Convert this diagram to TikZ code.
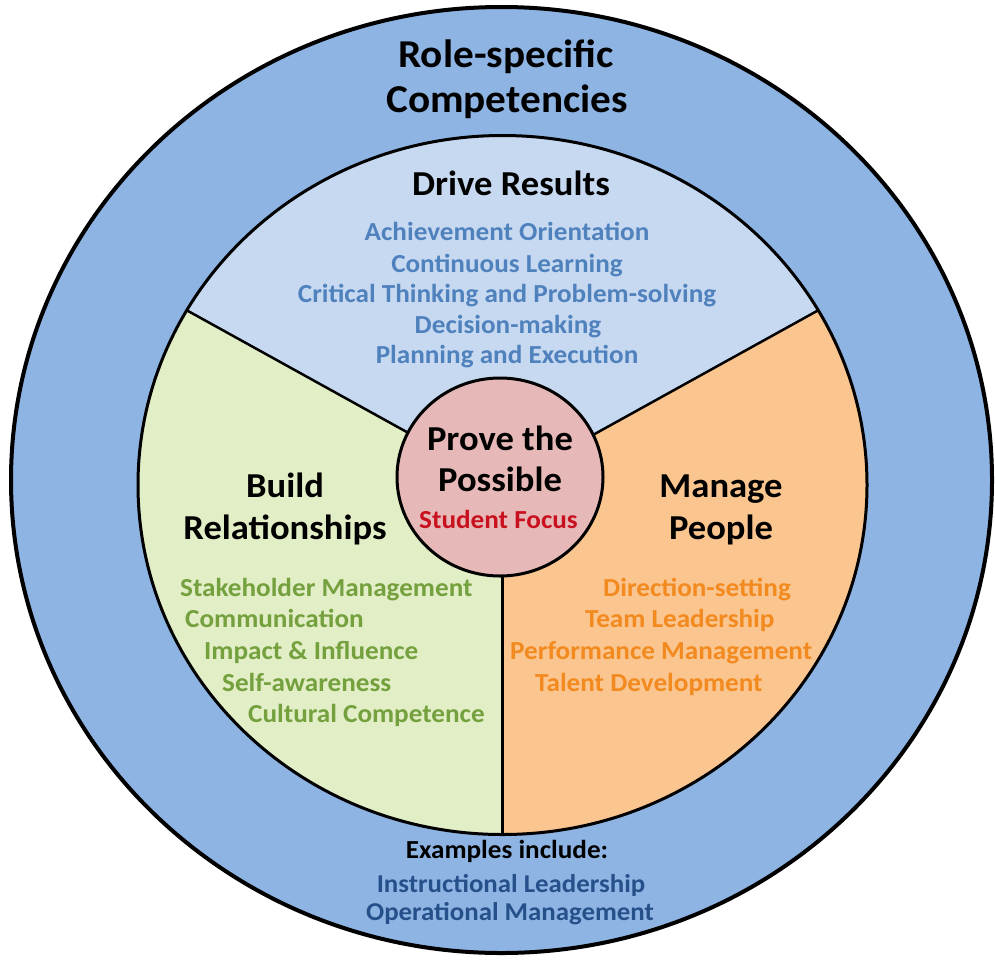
\documentclass[tikz,border=0pt]{standalone}
\usepackage{fontspec}
\setmainfont{Carlito}[FakeStretch=1.045]
\usetikzlibrary{shapes.geometric}

\definecolor{ringblue}{HTML}{8EB4E3}
\definecolor{drivefill}{HTML}{C6D9F1}
\definecolor{buildfill}{HTML}{E2EEC5}
\definecolor{managefill}{HTML}{FAC58E}
\definecolor{corefill}{HTML}{E6B9B8}
\definecolor{driveink}{HTML}{4F81BD}
\definecolor{buildink}{HTML}{74A03E}
\definecolor{manageink}{HTML}{F28A1F}
\definecolor{coreink}{HTML}{C8101E}
\definecolor{roleink}{HTML}{26508A}

\begin{document}
\begin{tikzpicture}[x=1pt,y=-1pt,
  txt/.style={inner sep=0pt, anchor=base, font=\bfseries},
  titletxt/.style={txt, font=\fontsize{39.5}{39.5}\selectfont\bfseries},
  headtxt/.style={txt, font=\fontsize{35}{35}\selectfont\bfseries},
  itemtxt/.style={txt, font=\fontsize{26}{26}\selectfont\bfseries},
  smalltxt/.style={txt, font=\fontsize{26}{26}\selectfont\bfseries},
  drive/.style={itemtxt, text=driveink},
  build/.style={itemtxt, text=buildink, anchor=base west},
  manage/.style={itemtxt, text=manageink, anchor=base west},
  role/.style={txt, font=\fontsize{25.7}{25.7}\selectfont\bfseries, text=roleink},
  divider/.style={line width=2.5pt, black}]
\useasboundingbox (0,0) rectangle (995,959);

% outer ring of role-specific competencies
\draw[line width=4pt, fill=ringblue] (501.5,480) ellipse [x radius=490.5, y radius=473];

% inner disc split in three sectors
\coordinate (hub) at (502.5,485);
\coordinate (pL) at (186.8,310.3);
\coordinate (pR) at (818.2,310.3);
\coordinate (pB) at (502.5,834.5);
\fill[drivefill] (hub) -- (pL) arc[start angle=-150, end angle=-30, x radius=364.5, y radius=349.5] -- cycle;
\fill[managefill] (hub) -- (pR) arc[start angle=-30, end angle=90, x radius=364.5, y radius=349.5] -- cycle;
\fill[buildfill] (hub) -- (pB) arc[start angle=90, end angle=210, x radius=364.5, y radius=349.5] -- cycle;
\draw[line width=3pt] (hub) ellipse [x radius=364.5, y radius=349.5];
\draw[divider] (hub) -- (pL);
\draw[divider] (hub) -- (pR);
\draw[divider] (hub) -- (pB);

% core
\node[ellipse, draw, line width=3pt, fill=corefill, minimum width=206pt, minimum height=198pt, inner sep=0pt] (core) at (500,477) {};

% ring title
\node[titletxt] (t1) at (506,67) {Role-specific};
\node[titletxt] (t2) at (507,112) {Competencies};

% drive results
\node[headtxt] (dr) at (511,195) {Drive Results};
\node[drive] (d1) at (507,240) {Achievement Orientation};
\node[drive] (d2) at (507,272) {Continuous Learning};
\node[drive] (d3) at (507,302) {Critical Thinking and Problem-solving};
\node[drive] (d4) at (508,333) {Decision-making};
\node[drive] (d5) at (507,363) {Planning and Execution};

% core text
\node[headtxt] (c1) at (500,450) {Prove the};
\node[headtxt] (c2) at (500,491) {Possible};
\node[itemtxt, text=coreink] (c3) at (498.5,528) {Student Focus};

% build relationships
\node[headtxt] (b0) at (285,497) {Build};
\node[headtxt] (b00) at (285,539) {Relationships};
\node[build] (b1) at (180,596) {Stakeholder Management};
\node[build] (b2) at (185,627) {Communication};
\node[build] (b3) at (204,659) {Impact \& Influence};
\node[build] (b4) at (222,691) {Self-awareness};
\node[build] (b5) at (248,722) {Cultural Competence};

% manage people
\node[headtxt] (m0) at (721,497) {Manage};
\node[headtxt] (m00) at (721,539) {People};
\node[manage] (m1) at (603,596) {Direction-setting};
\node[manage] (m2) at (585,627) {Team Leadership};
\node[manage] (m3) at (510,659) {Performance Management};
\node[manage] (m4) at (535,691) {Talent Development};

% examples in the outer ring
\node[smalltxt] (e0) at (507,858) {Examples include:};
\node[role] (e1) at (511,892) {Instructional Leadership};
\node[role] (e2) at (510,920) {Operational Management};
\end{tikzpicture}
\end{document}
